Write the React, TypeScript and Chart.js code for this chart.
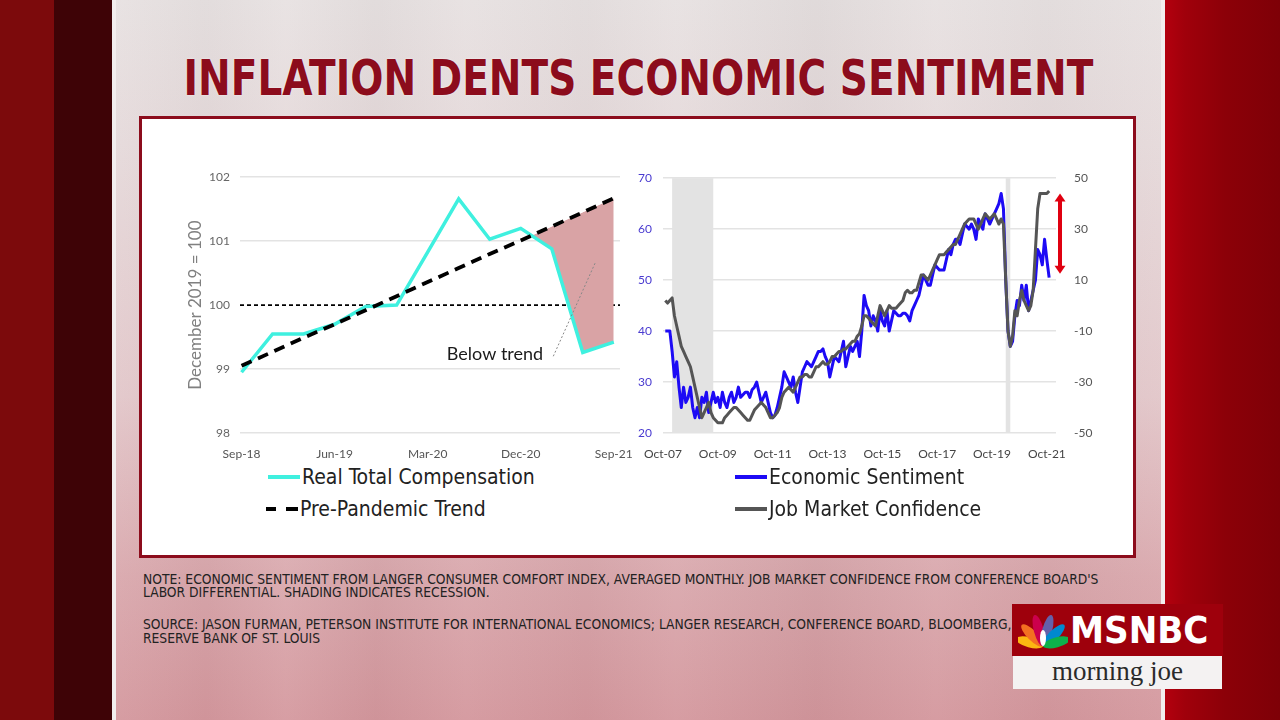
import React, { useEffect, useRef } from 'react';
import { Chart, registerables } from 'chart.js';

Chart.register(...registerables);

// ---------- Left chart data (quarterly) ----------
const quarterLabels = ['Sep-18', 'Dec-18', 'Mar-19', 'Jun-19', 'Sep-19', 'Dec-19', 'Mar-20', 'Jun-20', 'Sep-20', 'Dec-20', 'Mar-21', 'Jun-21', 'Sep-21'];
const quarterTickLabels = ['Sep-18', 'Jun-19', 'Mar-20', 'Dec-20', 'Sep-21'];
const realTotalCompensation = [98.95, 99.55, 99.55, 99.7, 99.98, 100.0, 100.83, 101.66, 101.03, 101.2, 100.88, 99.26, 99.42];
const prePandemicTrend = [99.05, 99.27, 99.49, 99.7, 99.92, 100.14, 100.36, 100.58, 100.8, 101.01, 101.23, 101.45, 101.67];
const belowTrendStart = 'Dec-20';
const referenceValue = 100;

// ---------- Right chart data (monthly, Oct-07 onwards) ----------
const monthNames = ['Jan', 'Feb', 'Mar', 'Apr', 'May', 'Jun', 'Jul', 'Aug', 'Sep', 'Oct', 'Nov', 'Dec'];
const monthLabels: string[] = [];
for (let i = 0; i < 173; i++) {
  const k = 9 + i;
  monthLabels.push(monthNames[k % 12] + '-' + String(7 + Math.floor(k / 12)).padStart(2, '0'));
}
const monthTickLabels = ['Oct-07', 'Oct-09', 'Oct-11', 'Oct-13', 'Oct-15', 'Oct-17', 'Oct-19', 'Oct-21'];

// Economic Sentiment (left axis)
const economicSentiment = [
  null, 40, 40, 40, 36, 31, 34, 29, 25, 29,
  26, 27, 29, 25, 23, 25, 23, 27, 26, 28,
  24, 26, 28, 26, 27, 25, 28, 26, 25, 27,
  28, 26, 27, 29, 27, 27.5, 28, 28, 27, 28.5,
  29, 30, 28, 26, 27, 28, 26, 24, 23, 23.5,
  25, 27, 29, 32, 31, 30, 29, 31, 28, 26,
  29, 32, 33, 34, 33.5, 33, 34, 35, 36, 36,
  36.5, 35, 34, 31, 33, 35, 34.5, 34, 36, 38,
  33, 35, 37, 36, 37, 38, 35, 40, 47, 45,
  44, 41, 43, 42, 40, 44, 42, 41, 44, 40,
  42, 44, 43.5, 43, 43, 43.5, 43.5, 43, 42, 44,
  45, 46, 47, 49, 51, 50, 49, 49, 51, 53,
  52.5, 52, 52, 52, 54, 56, 55, 57, 58, 58,
  57, 59, 61, 60.5, 60, 61, 60, 58, 62, 61,
  60, 63, 62, 61, 62, 63, 64, 65, 67, 64,
  50, 40, 37, 38, 43, 46, 45, 49, 46, 49,
  44, 46, 48, 50, 56, 55, 53, 58, 54, 50.5,
];

// Job Market Confidence (right axis)
const jobMarketConfidence = [
  null, 2, 1, 2, 3, -4, -8, -12, -16, -18,
  -20, -22, -24, -28, -32, -36, -40, -44, -42, -40,
  -38, -42, -44, -45, -46, -46, -46, -44, -43, -42,
  -41, -40, -40, -41, -42, -43, -44, -45, -45, -43,
  -41, -40, -39, -38, -39, -40, -42, -44, -44, -43,
  -42, -40, -36, -34, -33, -32, -33, -34, -32, -30,
  -28, -28, -27, -27, -28, -28, -26, -24, -24, -23,
  -22, -23, -23, -22, -20, -20, -19, -18, -18, -17,
  -17, -16, -15, -14, -14, -12, -11, -8, -4, -4,
  -5, -6, -7, -8, -4, 0, -2, -4, -2, 0,
  -1, -1, -1, 0, 1, 2, 5, 6, 5, 5,
  6, 6, 9, 12, 12, 11, 10, 12, 14, 16,
  18, 20, 20, 20, 21, 22, 23, 24, 24, 26,
  28, 30, 32, 33, 34, 34, 34, 32, 30, 32,
  34, 36, 35, 34, 35, 36, 34, 32, 34, 32,
  10, -10, -16, -12, -2, -4, 2, 6, 2, 0,
  -2, 0, 6, 22, 38, 44, 44, 44, 44, 45,
];

const recessions = [['Feb-08', 'Aug-09'], ['Apr-20', 'Jun-20']];
const gapArrow = [44, 12.5];

const FONT = 'Lato, "Noto Sans", sans-serif';
const NARROW = '"Liberation Sans Narrow", "DejaVu Sans Condensed", "Liberation Sans", sans-serif';

export default function App() {
  const leftRef = useRef<HTMLCanvasElement>(null);
  const rightRef = useRef<HTMLCanvasElement>(null);

  useEffect(() => {
    const refLinePlugin = {
      id: 'refLine',
      beforeDatasetsDraw(chart: any) {
        const { ctx, chartArea, scales } = chart;
        const y = scales.y.getPixelForValue(referenceValue);
        ctx.save();
        ctx.strokeStyle = '#000';
        ctx.lineWidth = 1.6;
        ctx.setLineDash([4, 3]);
        ctx.beginPath();
        ctx.moveTo(chartArea.left, y);
        ctx.lineTo(chartArea.right, y);
        ctx.stroke();
        ctx.restore();
      },
    };
    const belowTrendPlugin = {
      id: 'belowTrend',
      afterDatasetsDraw(chart: any) {
        const { ctx, scales } = chart;
        const x = scales.x, y = scales.y;
        ctx.save();
        ctx.strokeStyle = '#888';
        ctx.lineWidth = 1;
        ctx.setLineDash([2, 2]);
        ctx.beginPath();
        ctx.moveTo(x.getPixelForValue(10.05), y.getPixelForValue(99.2));
        ctx.lineTo(x.getPixelForValue(11.4), y.getPixelForValue(100.66));
        ctx.stroke();
        ctx.setLineDash([]);
        ctx.fillStyle = '#1a1a1a';
        ctx.font = '18px ' + FONT;
        ctx.textAlign = 'center';
        ctx.textBaseline = 'middle';
        ctx.fillText('Below trend', x.getPixelForValue(8.17), y.getPixelForValue(99.23));
        ctx.restore();
      },
    };

    const startIdx = quarterLabels.indexOf(belowTrendStart);
    const left = new Chart(leftRef.current!, {
      type: 'line',
      data: {
        datasets: [
          {
            label: 'Real Total Compensation',
            data: realTotalCompensation.map((v, i) => ({ x: i, y: v })),
            borderColor: '#3ff0df',
            borderWidth: 3.5,
            pointRadius: 0,
            tension: 0,
            fill: false,
            order: 1,
          },
          {
            label: 'Pre-Pandemic Trend',
            data: prePandemicTrend.map((v, i) => ({ x: i, y: v })),
            borderColor: '#000',
            borderWidth: 3.8,
            borderDash: [11, 7],
            pointRadius: 0,
            tension: 0,
            fill: false,
            order: 0,
          },
          {
            label: 'gap',
            data: realTotalCompensation.map((v, i) => ({ x: i, y: i >= startIdx ? v : null })),
            borderColor: 'rgba(0,0,0,0)',
            borderWidth: 1,
            pointRadius: 0,
            tension: 0,
            fill: { target: 1, above: 'rgba(0,0,0,0)', below: '#d9a3a5' },
            order: 2,
          },
        ],
      },
      options: {
        animation: false,
        responsive: false,
        events: [],
        layout: { padding: { left: 30, right: 20, top: 16, bottom: 0 } },
        plugins: { legend: { display: false }, tooltip: { enabled: false } },
        scales: {
          x: {
            type: 'linear',
            min: -0.05,
            max: 12.2,
            grid: { display: false },
            border: { display: false },
            afterBuildTicks: (s: any) => {
              s.ticks = quarterTickLabels.map((l) => ({ value: quarterLabels.indexOf(l) }));
            },
            afterFit: (s: any) => { s.height = 27; },
            ticks: {
              autoSkip: false,
              maxRotation: 0,
              color: '#555',
              font: { family: FONT, size: 12 },
              padding: 6,
              callback: (v: any) => quarterLabels[v] ?? '',
            },
          },
          y: {
            min: 98,
            max: 102,
            ticks: { stepSize: 1, color: '#666', font: { family: FONT, size: 12 }, padding: 10 },
            grid: {
              color: (c: any) => (c.tick && c.tick.value === referenceValue ? 'rgba(0,0,0,0)' : '#e3e3e3'),
              drawTicks: false,
              lineWidth: 1.5,
            },
            border: { display: false },
            title: {
              display: true,
              text: 'December 2019 = 100',
              color: '#808080',
              font: { family: FONT, size: 17 },
              padding: { top: 5, bottom: 0 },
            },
            afterFit: (s: any) => { s.width = 60; },
          },
        },
      },
      plugins: [refLinePlugin, belowTrendPlugin],
    } as any);

    const recessionPlugin = {
      id: 'recession',
      beforeDatasetsDraw(chart: any) {
        const { ctx, chartArea, scales } = chart;
        ctx.save();
        ctx.fillStyle = '#e3e3e3';
        recessions.forEach(([a, b]) => {
          const x1 = scales.x.getPixelForValue(monthLabels.indexOf(a));
          const x2 = scales.x.getPixelForValue(monthLabels.indexOf(b));
          ctx.fillRect(x1, chartArea.top, x2 - x1, chartArea.bottom - chartArea.top);
        });
        ctx.restore();
      },
    };
    const arrowPlugin = {
      id: 'gapArrow',
      afterDatasetsDraw(chart: any) {
        const { ctx, chartArea, scales } = chart;
        const x = chartArea.right + 4;
        const yTop = scales.y2.getPixelForValue(gapArrow[0]);
        const yBot = scales.y2.getPixelForValue(gapArrow[1]);
        ctx.save();
        ctx.strokeStyle = '#e00010';
        ctx.fillStyle = '#e00010';
        ctx.lineWidth = 4;
        ctx.beginPath();
        ctx.moveTo(x, yTop + 6);
        ctx.lineTo(x, yBot - 6);
        ctx.stroke();
        ctx.beginPath();
        ctx.moveTo(x, yTop);
        ctx.lineTo(x - 5.5, yTop + 8);
        ctx.lineTo(x + 5.5, yTop + 8);
        ctx.closePath();
        ctx.fill();
        ctx.beginPath();
        ctx.moveTo(x, yBot);
        ctx.lineTo(x - 5.5, yBot - 8);
        ctx.lineTo(x + 5.5, yBot - 8);
        ctx.closePath();
        ctx.fill();
        ctx.restore();
      },
    };

    const right = new Chart(rightRef.current!, {
      type: 'line',
      data: {
        labels: monthLabels,
        datasets: [
          {
            label: 'Job Market Confidence',
            data: jobMarketConfidence,
            yAxisID: 'y2',
            borderColor: '#555555',
            borderWidth: 3,
            pointRadius: 0,
            tension: 0,
            borderJoinStyle: 'round',
          },
          {
            label: 'Economic Sentiment',
            data: economicSentiment,
            yAxisID: 'y',
            borderColor: '#1d0af5',
            borderWidth: 3,
            pointRadius: 0,
            tension: 0,
            borderJoinStyle: 'round',
          },
        ],
      },
      options: {
        animation: false,
        responsive: false,
        events: [],
        layout: { padding: { left: 0, right: 0, top: 16, bottom: 0 } },
        plugins: { legend: { display: false }, tooltip: { enabled: false } },
        scales: {
          x: {
            type: 'category',
            offset: false,
            grid: { display: false },
            border: { display: false },
            afterBuildTicks: (s: any) => {
              s.ticks = monthTickLabels.map((l) => ({ value: monthLabels.indexOf(l) }));
            },
            afterFit: (s: any) => { s.height = 27; },
            ticks: {
              autoSkip: false,
              maxRotation: 0,
              color: '#444',
              font: { family: FONT, size: 12 },
              padding: 6,
              callback: (v: any) => monthLabels[v],
            },
          },
          y: {
            position: 'left',
            min: 20,
            max: 70,
            ticks: { stepSize: 10, color: '#4a3bd0', font: { family: FONT, size: 12 }, padding: 11 },
            grid: { color: '#e3e3e3', lineWidth: 1.5, drawTicks: false },
            border: { display: false },
            afterFit: (s: any) => { s.width = 43; },
          },
          y2: {
            position: 'right',
            min: -50,
            max: 50,
            ticks: { stepSize: 20, color: '#555', font: { family: FONT, size: 12 }, padding: 10 },
            grid: { display: false },
            border: { display: false },
            afterFit: (s: any) => { s.width = 44; },
          },
        },
      },
      plugins: [recessionPlugin, arrowPlugin],
    } as any);

    return () => {
      left.destroy();
      right.destroy();
    };
  }, []);

  const legendRow = (top: number, left: number, sample: React.ReactNode, text: string) => (
    <div style={{ position: 'absolute', top, left, height: 24, display: 'flex', alignItems: 'center' }}>
      <div style={{ width: 34, display: 'flex', alignItems: 'center' }}>{sample}</div>
      <span style={{ fontFamily: NARROW, fontSize: 21, color: '#222', whiteSpace: 'nowrap' }}>{text}</span>
    </div>
  );
  const solid = (color: string) => <div style={{ width: 32, height: 4, background: color }} />;
  const dashed = (
    <div style={{ display: 'flex', width: 34, gap: 10 }}>
      <div style={{ width: 10, height: 4, background: '#000' }} />
      <div style={{ width: 12, height: 4, background: '#000' }} />
    </div>
  );

  const noteStyle: React.CSSProperties = {
    position: 'absolute',
    left: 143,
    fontFamily: NARROW,
    fontSize: 14,
    color: '#222',
    whiteSpace: 'nowrap',
    transform: 'scaleX(0.98)',
    transformOrigin: 'left top',
  };

  return (
    <div style={{ position: 'fixed', left: 0, top: 0, width: 1280, height: 720, overflow: 'hidden', background: '#8a0008' }}>
      {/* side bands */}
      <div style={{ position: 'absolute', left: 0, top: 0, width: 54, height: 720, background: '#7c0a0c' }} />
      <div style={{ position: 'absolute', left: 54, top: 0, width: 58, height: 720, background: '#3e0306' }} />
      <div style={{ position: 'absolute', left: 1165, top: 0, width: 115, height: 720, background: 'linear-gradient(to right, #b3000e 0px, #a0000b 20px, #8c0008 60px, #7e0007 115px)' }} />
      {/* main panel */}
      <div
        style={{
          position: 'absolute', left: 112, top: 0, width: 1053, height: 720,
          borderLeft: '4px solid #f2eeee', borderRight: '4px solid #f2eeee', boxSizing: 'border-box',
          background:
            'linear-gradient(to right, rgba(255,255,255,0.06) 0px, rgba(0,0,0,0.02) 90px, rgba(255,255,255,0.07) 170px, rgba(0,0,0,0.025) 260px, rgba(255,255,255,0.05) 350px, rgba(0,0,0,0.02) 470px, rgba(255,255,255,0.06) 560px, rgba(0,0,0,0.03) 700px, rgba(255,255,255,0.05) 820px, rgba(0,0,0,0.02) 930px, rgba(255,255,255,0.06) 1053px), linear-gradient(to bottom, #e7e1e1 0%, #e5d9da 20%, #e2c6c9 55%, #d9a7ac 80%, #d4979d 100%)',
        }}
      />
      {/* title */}
      <div
        style={{
          position: 'absolute', left: 112, width: 1053, top: 50, textAlign: 'center',
          fontFamily: NARROW, fontWeight: 'bold', fontSize: 50, lineHeight: '56px', color: '#8c0c1c',
          textShadow: '0 0 2px rgba(255,255,255,0.8)', whiteSpace: 'nowrap',
          transform: 'scaleX(0.868)', transformOrigin: '526px 0',
        }}
      >
        INFLATION DENTS ECONOMIC SENTIMENT
      </div>
      {/* white chart box */}
      <div style={{ position: 'absolute', left: 139, top: 116, width: 997, height: 442, background: '#fff', border: '3px solid #8c0c1c', boxSizing: 'border-box' }} />
      <canvas ref={leftRef} width={490} height={300} style={{ position: 'absolute', left: 150, top: 160, width: 490, height: 300 }} />
      <canvas ref={rightRef} width={480} height={300} style={{ position: 'absolute', left: 620, top: 160, width: 480, height: 300 }} />
      {/* legends */}
      {legendRow(465, 268, solid('#3ff0df'), 'Real Total Compensation')}
      {legendRow(497, 266, dashed, 'Pre-Pandemic Trend')}
      {legendRow(465, 735, solid('#1d0af5'), 'Economic Sentiment')}
      {legendRow(497, 735, solid('#555'), 'Job Market Confidence')}
      {/* notes */}
      <div style={{ ...noteStyle, top: 573, lineHeight: '13px' }}>
        NOTE: ECONOMIC SENTIMENT FROM LANGER CONSUMER COMFORT INDEX, AVERAGED MONTHLY. JOB MARKET CONFIDENCE FROM CONFERENCE BOARD'S
        <br />
        LABOR DIFFERENTIAL. SHADING INDICATES RECESSION.
      </div>
      <div style={{ ...noteStyle, top: 617, lineHeight: '14px' }}>
        SOURCE: JASON FURMAN, PETERSON INSTITUTE FOR INTERNATIONAL ECONOMICS; LANGER RESEARCH, CONFERENCE BOARD, BLOOMBERG, FEDERAL
        <br />
        RESERVE BANK OF ST. LOUIS
      </div>
      {/* logo */}
      <div style={{ position: 'absolute', left: 1012, top: 604, width: 211, height: 52, background: '#9e000c', display: 'flex', alignItems: 'center' }}>
        <svg width={50} height={40} viewBox="0 0 50 40" style={{ marginLeft: 6 }}>
          <g transform="translate(25,36)">
            <ellipse cx={0} cy={-14} rx={5} ry={14} fill="#fcb711" transform="rotate(-75)" />
            <ellipse cx={0} cy={-15} rx={5} ry={15} fill="#f37021" transform="rotate(-45)" />
            <ellipse cx={0} cy={-16} rx={5} ry={16} fill="#cc004c" transform="rotate(-15)" />
            <ellipse cx={0} cy={-16} rx={5} ry={16} fill="#6460aa" transform="rotate(15)" />
            <ellipse cx={0} cy={-15} rx={5} ry={15} fill="#0089d0" transform="rotate(45)" />
            <ellipse cx={0} cy={-14} rx={5} ry={14} fill="#0db14b" transform="rotate(75)" />
            <ellipse cx={0} cy={-8} rx={3} ry={8} fill="#fff" />
          </g>
        </svg>
        <span style={{ fontFamily: NARROW, fontWeight: 'bold', fontSize: 38, color: '#fff', marginLeft: 2, letterSpacing: 0 }}>MSNBC</span>
      </div>
      <div style={{ position: 'absolute', left: 1013, top: 656, width: 209, height: 33, background: '#f4f2f2', textAlign: 'center', fontFamily: '"Liberation Serif", serif', fontSize: 27, lineHeight: '31px', color: '#2a2a2a' }}>
        morning joe
      </div>
    </div>
  );
}
